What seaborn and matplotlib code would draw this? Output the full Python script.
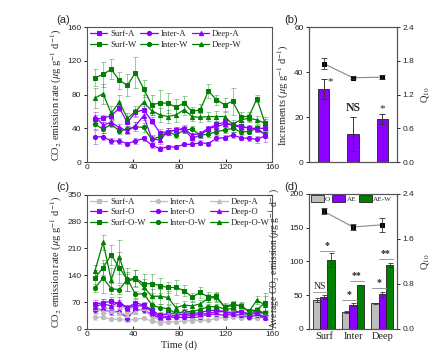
import numpy as np
import pandas as pd
import seaborn as sns
import matplotlib
matplotlib.use('Agg')
import matplotlib.pyplot as plt
from matplotlib.patches import Patch

# sampling days
days = [7, 14, 21, 28, 35, 42, 49, 56, 63, 70, 77, 84, 91, 98, 105, 112, 119, 126, 133, 140, 147, 154]

# panel (a) / grey series of panel (c)
surf_a = [51, 52, 55, 64, 47, 59, 62, 49, 35, 36, 38, 39, 28, 32, 39, 45, 47, 44, 43, 40, 40, 40]
inter_a = [30, 30, 25, 25, 22, 25, 28, 20, 16, 18, 18, 21, 21, 23, 22, 28, 29, 32, 29, 28, 27, 31]
deep_a = [54, 44, 47, 41, 37, 43, 55, 28, 26, 36, 38, 40, 32, 34, 40, 42, 45, 44, 41, 41, 39, 33]
surf_w = [100, 104, 110, 97, 91, 106, 87, 68, 70, 70, 65, 70, 60, 62, 84, 74, 68, 72, 54, 54, 75, 46]
inter_w = [45, 39, 45, 37, 39, 42, 41, 27, 30, 36, 32, 38, 39, 32, 33, 36, 38, 40, 36, 36, 40, 33]
deep_w = [76, 81, 58, 71, 52, 60, 71, 61, 56, 54, 56, 62, 54, 53, 54, 54, 54, 45, 50, 52, 50, 46]

surf_a_err = [5, 4, 4, 4, 4, 4, 5, 4, 4, 4, 4, 4, 3, 3, 4, 4, 4, 4, 4, 3, 3, 4]
inter_a_err = [8, 4, 3, 3, 2, 3, 3, 3, 3, 2, 2, 2, 2, 3, 2, 3, 3, 4, 3, 3, 4, 7]
deep_a_err = [5, 4, 4, 4, 4, 4, 5, 4, 4, 4, 3, 4, 3, 3, 3, 4, 4, 4, 3, 3, 3, 4]
surf_w_err = [10, 15, 12, 10, 13, 18, 10, 12, 15, 12, 10, 8, 5, 7, 8, 6, 8, 16, 5, 5, 4, 8]
inter_w_err = [6, 5, 4, 4, 4, 5, 5, 4, 5, 4, 4, 4, 4, 3, 3, 4, 4, 4, 3, 3, 4, 3]
deep_w_err = [12, 12, 8, 8, 6, 7, 8, 5, 8, 8, 8, 6, 5, 5, 5, 6, 5, 5, 5, 5, 5, 5]

# panel (c)
surf_o = [65, 68, 72, 65, 55, 68, 62, 50, 35, 40, 40, 42, 40, 42, 48, 48, 45, 42, 45, 40, 42, 42]
inter_o = [50, 48, 45, 45, 28, 50, 50, 38, 28, 30, 30, 30, 30, 32, 38, 38, 35, 38, 35, 32, 35, 28]
deep_o = [58, 65, 60, 70, 55, 60, 60, 45, 30, 32, 35, 38, 35, 38, 40, 45, 45, 40, 45, 38, 40, 30]
surf_ow = [133, 160, 193, 160, 128, 133, 118, 118, 113, 108, 108, 100, 83, 95, 83, 85, 56, 65, 59, 46, 50, 68]
inter_ow = [107, 133, 105, 102, 130, 90, 92, 63, 55, 53, 40, 45, 45, 50, 58, 58, 52, 52, 40, 38, 50, 40]
deep_ow = [152, 226, 128, 188, 124, 131, 110, 85, 85, 82, 55, 62, 60, 65, 80, 82, 58, 60, 62, 45, 75, 62]

surf_o_err = [10, 10, 12, 10, 8, 10, 8, 8, 6, 6, 6, 6, 5, 5, 6, 6, 5, 5, 5, 5, 5, 5]
inter_o_err = [8, 8, 8, 8, 8, 8, 8, 6, 5, 5, 5, 5, 5, 5, 5, 5, 5, 5, 5, 5, 5, 5]
deep_o_err = [12, 12, 12, 12, 8, 10, 8, 8, 6, 6, 6, 6, 5, 5, 6, 6, 5, 5, 5, 5, 5, 5]
surf_ow_err = [20, 20, 25, 40, 30, 20, 25, 25, 20, 15, 20, 15, 10, 15, 12, 12, 8, 8, 8, 5, 5, 25]
inter_ow_err = [10, 40, 15, 12, 12, 10, 10, 8, 10, 8, 6, 6, 5, 6, 8, 6, 6, 6, 5, 5, 6, 8]
deep_ow_err = [15, 20, 30, 45, 25, 22, 20, 20, 20, 18, 12, 10, 10, 10, 10, 12, 10, 10, 8, 8, 10, 25]

# panel (b)
depths = ['Surf', 'Inter', 'Deep']
increments = [32.5, 12.5, 19.3]
increments_err = [4.6, 7.7, 2.2]
q10_b = [1.75, 1.50, 1.51]
q10_b_err = [0.1, 0.03, 0.03]

# panel (d)
treatments = ['O', 'AE', 'AE-W']
avg_o = [43, 25, 37.5]
avg_ae = [47, 36, 51]
avg_aew = [102, 65, 94]
avg_o_err = [3, 2, 1]
avg_ae_err = [3, 1.5, 4]
avg_aew_err = [11, 0.5, 3]
q10_d = [2.09, 1.81, 1.85]
q10_d_err = [0.05, 0.05, 0.12]

purple = '#8B00FF'
green = '#008000'
grey = '#BEBEBE'
spine_col = '#555555'

sns.set_style('ticks')
plt.rcParams['mathtext.fontset'] = 'stix'
plt.rcParams['font.family'] = ['Liberation Sans', 'DejaVu Sans']
serif = ['Liberation Serif', 'DejaVu Serif']

fig = plt.figure(figsize=(4.48, 3.57), dpi=100)
ax_a = fig.add_axes([0.194, 0.546, 0.413, 0.378])
ax_b = fig.add_axes([0.690, 0.546, 0.196, 0.378])
ax_c = fig.add_axes([0.194, 0.079, 0.413, 0.375])
ax_d = fig.add_axes([0.690, 0.079, 0.196, 0.378])

ylab = 'CO$_2$ emission rate ($\\mu$g g$^{-1}$ d$^{-1}$)'
leg_kw = dict(loc='upper left', ncol=3, frameon=False, prop={'family': serif, 'size': 6.3},
              handlelength=2.0, handletextpad=0.3, columnspacing=0.45, labelspacing=0.25,
              borderaxespad=0.15, borderpad=0.2)


def draw_series(ax, vals, errs, color, marker, label):
    sns.lineplot(x=days, y=vals, ax=ax, color=color, marker=marker, markersize=3,
                 markeredgecolor=color, markerfacecolor=color,
                 linewidth=0.9, label=label, legend=False)
    ax.errorbar(days, vals, yerr=errs, fmt='none', ecolor=color, alpha=0.4,
                elinewidth=0.7, capsize=1.8, capthick=0.7)


def style_axes(ax):
    for s in ax.spines.values():
        s.set_color(spine_col)
        s.set_linewidth(0.8)
    ax.tick_params(labelsize=6, length=2.5, width=0.7, colors='#222222', pad=1.5)


# panel (a)
series_a = [(surf_a, surf_a_err, purple, 's', 'Surf-A'),
            (surf_w, surf_w_err, green, 's', 'Surf-W'),
            (inter_a, inter_a_err, purple, 'o', 'Inter-A'),
            (inter_w, inter_w_err, green, 'o', 'Inter-W'),
            (deep_a, deep_a_err, purple, '^', 'Deep-A'),
            (deep_w, deep_w_err, green, '^', 'Deep-W')]
for vals, errs, col, mk, lab in series_a:
    draw_series(ax_a, vals, errs, col, mk, lab)
ax_a.set_xlim(0, 160)
ax_a.set_ylim(0, 160)
ax_a.set_xticks([0, 40, 80, 120, 160])
ax_a.set_yticks([0, 40, 80, 120, 160])
ax_a.set_xlabel('')
ax_a.set_ylabel(ylab, family=serif, fontsize=7.5, labelpad=2)
style_axes(ax_a)
ax_a.tick_params(axis='x', direction='in')
ax_a.legend(**leg_kw)

# panel (c)
series_c = [(surf_a, surf_a_err, grey, 's', 'Surf-A'),
            (surf_o, surf_o_err, purple, 's', 'Surf-O'),
            (surf_ow, surf_ow_err, green, 's', 'Surf-O-W'),
            (inter_a, inter_a_err, grey, 'o', 'Inter-A'),
            (inter_o, inter_o_err, purple, 'o', 'Inter-O'),
            (inter_ow, inter_ow_err, green, 'o', 'Inter-O-W'),
            (deep_a, deep_a_err, grey, '^', 'Deep-A'),
            (deep_o, deep_o_err, purple, '^', 'Deep-O'),
            (deep_ow, deep_ow_err, green, '^', 'Deep-O-W')]
for vals, errs, col, mk, lab in series_c:
    draw_series(ax_c, vals, errs, col, mk, lab)
ax_c.set_xlim(0, 160)
ax_c.set_ylim(0, 350)
ax_c.set_xticks([0, 40, 80, 120, 160])
ax_c.set_yticks([0, 70, 140, 210, 280, 350])
ax_c.set_xlabel('Time (d)', family=serif, fontsize=7.5, labelpad=2)
ax_c.set_ylabel(ylab, family=serif, fontsize=7.5, labelpad=2)
style_axes(ax_c)
ax_c.tick_params(axis='x', direction='in')
ax_c.legend(**leg_kw)

# panel (b)
df_b = pd.DataFrame({'depth': depths, 'inc': increments})
sns.barplot(data=df_b, x='depth', y='inc', ax=ax_b, color=purple, width=0.38,
            edgecolor='#222222', linewidth=0.6, saturation=1)
ax_b.errorbar(range(3), increments, yerr=increments_err, fmt='none', ecolor='#333333',
              elinewidth=0.7, capsize=2, capthick=0.7)
ax_b.set_ylim(0, 60)
ax_b.set_yticks([0, 20, 40, 60])
ax_b.set_xlim(-0.5, 2.5)
ax_b.set_xticks([])
ax_b.set_xlabel('')
ax_b.set_ylabel('Increments ($\\mu$g g$^{-1}$ d$^{-1}$)', family=serif, fontsize=7.5, labelpad=2)
style_axes(ax_b)
ax_b.text(0.22, 34.5, '*', fontsize=8, family=serif, ha='center')
ax_b.text(1, 22.5, 'NS', fontsize=8.5, family=serif, weight='bold', ha='center')
ax_b.text(2, 22.5, '*', fontsize=8, family=serif, ha='center')
ax_b2 = ax_b.twinx()
sns.lineplot(x=[0, 1, 2], y=q10_b, ax=ax_b2, color='#888888', marker='s', markersize=3.5,
             markerfacecolor='black', markeredgecolor='black', linewidth=0.8)
ax_b2.errorbar([0, 1, 2], q10_b, yerr=q10_b_err, fmt='none', ecolor='#333333',
               elinewidth=0.6, capsize=2, capthick=0.6)
ax_b2.set_ylim(0, 2.4)
ax_b2.set_yticks([0.0, 0.6, 1.2, 1.8, 2.4])
ax_b2.set_yticklabels(['0.0', '0.6', '1.2', '1.8', '2.4'])
ax_b2.set_ylabel('Q$_{10}$', family=serif, fontsize=7.5, labelpad=3)
style_axes(ax_b2)

# panel (d)
df_d = pd.DataFrame({'depth': depths * 3,
                     'treatment': [t for t in treatments for _ in depths],
                     'avg': avg_o + avg_ae + avg_aew})
sns.barplot(data=df_d, x='depth', y='avg', hue='treatment', ax=ax_d,
            palette=[grey, purple, green], width=0.74, edgecolor='#222222',
            linewidth=0.6, saturation=1, legend=False)
bw = 0.74 / 3
for k, (vals, errs) in enumerate([(avg_o, avg_o_err), (avg_ae, avg_ae_err), (avg_aew, avg_aew_err)]):
    xs = [i + (k - 1) * bw for i in range(3)]
    ax_d.errorbar(xs, vals, yerr=errs, fmt='none', ecolor='#333333',
                  elinewidth=0.6, capsize=1.8, capthick=0.6)
ax_d.set_ylim(0, 200)
ax_d.set_yticks([0, 50, 100, 150, 200])
ax_d.set_xlim(-0.5, 2.5)
ax_d.set_xlabel('')
ax_d.set_ylabel('Average CO$_2$ emission ($\\mu$g g$^{-1}$ d$^{-1}$)', family=serif,
                fontsize=6.9)
ax_d.yaxis.set_label_coords(-0.31, 0.52)
style_axes(ax_d)
for lab in ax_d.get_xticklabels():
    lab.set_family(serif)
    lab.set_fontsize(7.5)
ax_d.tick_params(axis='x', length=0, pad=2)
# significance marks
sig = [(0, -1, 0, 54, 'NS'), (0, 0, 1, 116, '*'),
       (1, -1, 0, 42, '*'), (1, 0, 1, 71, '**'),
       (2, -1, 0, 60, '*'), (2, 0, 1, 104, '**')]
for g, k1, k2, yv, txt in sig:
    x1 = g + k1 * bw - 0.12
    x2 = g + k2 * bw + 0.12
    ax_d.plot([x1, x2], [yv, yv], color='#999999', linewidth=0.7)
    ax_d.text((x1 + x2) / 2, yv + 1.5, txt, fontsize=7, family=serif,
              weight='bold' if txt != 'NS' else 'normal', ha='center', va='bottom')
ax_d.legend(handles=[Patch(facecolor=c, edgecolor='#222222', linewidth=0.6, label=t)
                     for c, t in zip([grey, purple, green], treatments)],
            loc='upper left', ncol=3, frameon=False, prop={'family': serif, 'size': 5.2},
            handlelength=1.8, handleheight=1.0, handletextpad=0.2, columnspacing=0.3,
            borderaxespad=0.1, borderpad=0.1)
ax_d2 = ax_d.twinx()
sns.lineplot(x=[0, 1, 2], y=q10_d, ax=ax_d2, color='#888888', marker='s', markersize=3.5,
             markerfacecolor='black', markeredgecolor='black', linewidth=0.8)
ax_d2.errorbar([0, 1, 2], q10_d, yerr=q10_d_err, fmt='none', ecolor='#333333',
               elinewidth=0.6, capsize=2, capthick=0.6)
ax_d2.set_ylim(0, 2.4)
ax_d2.set_yticks([0.0, 0.8, 1.6, 2.4])
ax_d2.set_yticklabels(['0.0', '0.8', '1.6', '2.4'])
ax_d2.set_ylabel('Q$_{10}$', family=serif, fontsize=7.5, labelpad=3)
style_axes(ax_d2)

# panel letters
fig.text(0.125, 0.935, '(a)', fontsize=8)
fig.text(0.635, 0.935, '(b)', fontsize=8)
fig.text(0.125, 0.468, '(c)', fontsize=8)
fig.text(0.635, 0.468, '(d)', fontsize=8)

fig.savefig('out.png', dpi=100)
